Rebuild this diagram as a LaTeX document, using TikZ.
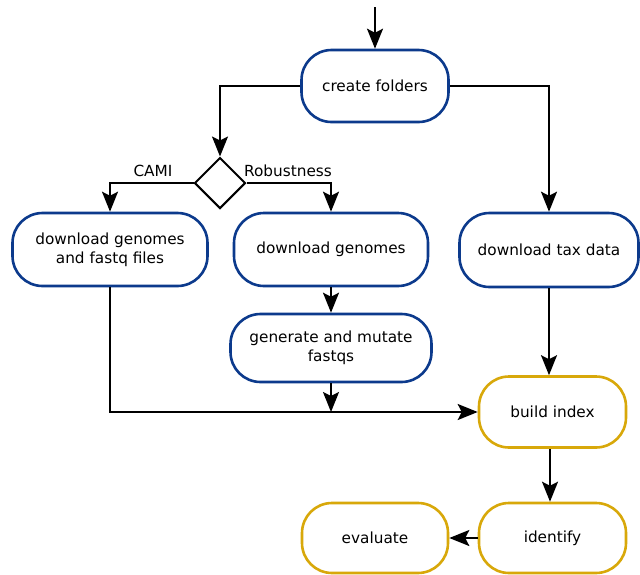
\documentclass[tikz,border=0pt]{standalone}
\usepackage{fontspec}
\setmainfont{DejaVu Sans}
\usetikzlibrary{shapes.geometric,arrows.meta}
\definecolor{stepblue}{RGB}{12,58,140}
\definecolor{stepgold}{RGB}{216,168,10}
\tikzset{
  stepbox/.style={draw, line width=2.6pt, rounded corners=30pt, fill=white,
    align=center, font=\fontsize{15.3}{19}\selectfont, inner sep=0pt},
  prep/.style={stepbox, draw=stepblue},
  run/.style={stepbox, draw=stepgold},
  flow/.style={line width=2pt, -{Stealth[length=20pt, width=16pt, inset=4pt]}},
  lbl/.style={font=\fontsize{15.3}{19}\selectfont, inner sep=0pt}
}
\begin{document}
\begin{tikzpicture}[x=1pt, y=-1pt]
\useasboundingbox (0,0) rectangle (640,574);

% setup stage
\node[prep, minimum width=147pt, minimum height=72pt] (create) at (375,86) {create folders};
\node[draw, line width=2pt, diamond, minimum width=51pt, minimum height=51pt, inner sep=0pt] (choice) at (220,183) {};

% download stage
\node[prep, minimum width=195pt, minimum height=73pt] (cami) at (110,249.5) {download genomes\\and fastq files};
\node[prep, minimum width=194pt, minimum height=73pt] (rob) at (331,249.5) {download genomes};
\node[prep, minimum width=179pt, minimum height=74pt] (tax) at (549,250) {download tax data};
\node[prep, minimum width=201pt, minimum height=68pt] (gen) at (331,348) {generate and mutate\\fastqs};

% index and evaluation stage
\node[run, minimum width=147pt, minimum height=71pt] (build) at (552.5,412) {build index};
\node[run, minimum width=147pt, minimum height=70pt] (ident) at (552.5,538) {identify};
\node[run, minimum width=146pt, minimum height=70pt] (eval) at (375,538) {evaluate};

% branch labels
\node[lbl] (camilbl) at (153,171) {CAMI};
\node[lbl] (roblbl) at (288,171) {Robustness};

% free ends
\coordinate (start) at (375,7);
\coordinate (merge) at (331,412);

% connectors
\draw[flow] (start) -- (create.north);
\draw[flow] (create.west) -| (choice.north);
\draw[flow] (create.east) -| (tax.north);
\draw[flow] (choice.west) -| (cami.north);
\draw[flow] (choice.east) -| (rob.north);
\draw[flow] (rob.south) -- (gen.north);
\draw[flow] (gen.south) -- (merge);
\draw[flow] (cami.south) |- (build.west);
\draw[flow] (tax.south) -- (tax.south |- build.north);
\draw[flow] (build.south -| 550,0) -- (ident.north -| 550,0);
\draw[flow] (ident.west) -- (eval.east);
\end{tikzpicture}
\end{document}
